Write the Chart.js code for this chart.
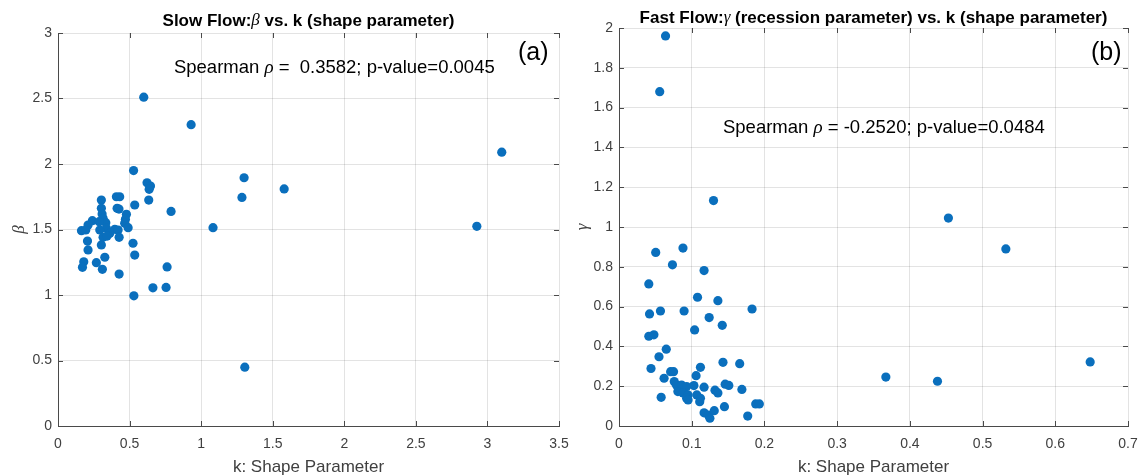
<!DOCTYPE html>
<html>
<head>
<meta charset="utf-8">
<script src="https://cdn.jsdelivr.net/npm/chart.js@4.4.1/dist/chart.umd.min.js"></script>
<style>
    html, body { margin: 0; padding: 0; background: #fff; }
    #wrap { position: relative; width: 1142px; height: 476px; }
    .panel { position: absolute; top: 0; height: 476px; }
</style>
</head>
<body>
<div id="wrap">
    <div class="panel" style="left:0;width:570px"><canvas id="slowChart" width="570" height="476"></canvas></div>
    <div class="panel" style="left:570px;width:572px"><canvas id="fastChart" width="572" height="476"></canvas></div>
</div>
<script>
/* =====================================
   Data: slow flow (beta vs k)
===================================== */
const slowK = [0.599, 0.93, 3.10, 0.528, 1.30, 1.285, 1.58, 1.083, 2.926, 0.755,
    0.663, 0.53, 1.305, 0.762, 0.622, 0.646, 0.637, 0.634, 0.79, 0.536,
    0.408, 0.431, 0.413, 0.426, 0.303, 0.303, 0.308, 0.315, 0.478, 0.471,
    0.466, 0.490, 0.240, 0.210, 0.164, 0.194, 0.334, 0.338, 0.292, 0.362,
    0.397, 0.420, 0.427, 0.315, 0.343, 0.206, 0.210, 0.303, 0.524, 0.536,
    0.327, 0.180, 0.171, 0.268, 0.310, 0.427, 0.288];
const slowBeta = [2.51, 2.30, 2.09, 1.95, 1.895, 1.745, 1.81, 1.514, 1.524, 1.058,
    1.055, 0.994, 0.449, 1.214, 1.857, 1.832, 1.807, 1.725, 1.638, 1.687,
    1.750, 1.750, 1.662, 1.656, 1.725, 1.662, 1.618, 1.585, 1.616, 1.578,
    1.547, 1.514, 1.567, 1.534, 1.491, 1.496, 1.552, 1.509, 1.496, 1.471,
    1.502, 1.496, 1.440, 1.440, 1.450, 1.412, 1.344, 1.382, 1.395, 1.305,
    1.288, 1.254, 1.211, 1.247, 1.196, 1.160, 1.560];
const slowXTicks = [0, 0.5, 1, 1.5, 2, 2.5, 3, 3.5];
const slowYTicks = [0, 0.5, 1, 1.5, 2, 2.5, 3];

/* =====================================
   Data: fast flow (gamma vs k)
===================================== */
const fastK = [0.064, 0.056, 0.130, 0.453, 0.532, 0.648, 0.367, 0.438, 0.0505, 0.088,
    0.0735, 0.117, 0.041, 0.108, 0.136, 0.183, 0.042, 0.057, 0.0895, 0.124,
    0.142, 0.104, 0.041, 0.048, 0.065, 0.055, 0.044, 0.143, 0.166, 0.112,
    0.071, 0.075, 0.106, 0.062, 0.076, 0.079, 0.086, 0.093, 0.103, 0.117,
    0.081, 0.088, 0.095, 0.132, 0.136, 0.146, 0.151, 0.169, 0.058, 0.093,
    0.095, 0.107, 0.112, 0.111, 0.145, 0.117, 0.123, 0.131, 0.125, 0.177,
    0.188, 0.193];
const fastGamma = [1.96, 1.68, 1.133, 1.045, 0.890, 0.322, 0.246, 0.225, 0.872, 0.894,
    0.810, 0.781, 0.714, 0.647, 0.630, 0.588, 0.563, 0.578, 0.578, 0.545,
    0.506, 0.483, 0.451, 0.458, 0.386, 0.348, 0.289, 0.320, 0.313, 0.295,
    0.273, 0.273, 0.253, 0.240, 0.223, 0.206, 0.206, 0.198, 0.203, 0.195,
    0.173, 0.166, 0.156, 0.180, 0.166, 0.210, 0.204, 0.184, 0.144, 0.139,
    0.131, 0.156, 0.139, 0.122, 0.097, 0.066, 0.055, 0.077, 0.039, 0.050,
    0.111, 0.111];
const fastXTicks = [0, 0.1, 0.2, 0.3, 0.4, 0.5, 0.6, 0.7];
const fastYTicks = [0, 0.2, 0.4, 0.6, 0.8, 1, 1.2, 1.4, 1.6, 1.8, 2];

/* =====================================
   Shared styles
===================================== */
const SANS = '"Liberation Sans", Arial, Helvetica, sans-serif';
const SERIF = '"Liberation Serif", "Times New Roman", serif';
const DOT = '#0a6fbd';
const GRID = 'rgba(0,0,0,0.11)';
const AXIS = '#4a4a4a';
const TICK = '#404040';

// draw a line of text made of runs with different fonts
function drawRuns(ctx, runs, x, y, align) {
    let total = 0;
    runs.forEach(r => { ctx.font = r[1]; total += ctx.measureText(r[0]).width; });
    let cx = align === 'center' ? x - total / 2 : x;
    ctx.textAlign = 'left';
    ctx.textBaseline = 'middle';
    runs.forEach(r => {
        ctx.font = r[1];
        ctx.fillText(r[0], cx, y);
        cx += ctx.measureText(r[0]).width;
    });
}

// titles, annotations, axis labels and inner tick marks
function panelPlugin(cfg) {
    return {
        id: 'panelText',
        afterDraw(chart) {
            const ctx = chart.ctx;
            const a = chart.chartArea;
            const xs = chart.scales.x;
            const ys = chart.scales.y;
            ctx.save();

            // inward tick marks on all four sides
            ctx.strokeStyle = AXIS;
            ctx.lineWidth = 1;
            ctx.beginPath();
            cfg.xTicks.forEach(v => {
                const px = Math.round(xs.getPixelForValue(v)) + 0.5;
                ctx.moveTo(px, a.bottom); ctx.lineTo(px, a.bottom - 5);
                ctx.moveTo(px, a.top); ctx.lineTo(px, a.top + 5);
            });
            cfg.yTicks.forEach(v => {
                const py = Math.round(ys.getPixelForValue(v)) + 0.5;
                ctx.moveTo(a.left, py); ctx.lineTo(a.left + 5, py);
                ctx.moveTo(a.right, py); ctx.lineTo(a.right - 5, py);
            });
            ctx.stroke();

            ctx.fillStyle = '#000';
            // title
            drawRuns(ctx, cfg.title, (a.left + a.right) / 2, cfg.titleY, 'center');

            // spearman note
            drawRuns(ctx, cfg.note,
                xs.getPixelForValue(cfg.notePos[0]), ys.getPixelForValue(cfg.notePos[1]), 'left');

            // panel letter
            ctx.font = '25px ' + SANS;
            ctx.textAlign = 'center';
            ctx.textBaseline = 'middle';
            ctx.fillText(cfg.letter, xs.getPixelForValue(cfg.letterPos[0]), ys.getPixelForValue(cfg.letterPos[1]));

            // x axis title
            ctx.fillStyle = TICK;
            ctx.font = '17px ' + SANS;
            ctx.fillText('k: Shape Parameter', (a.left + a.right) / 2, 467);

            // y axis symbol, rotated
            ctx.translate(cfg.yTitleX, (a.top + a.bottom) / 2);
            ctx.rotate(-Math.PI / 2);
            ctx.font = 'italic 17px ' + SERIF;
            ctx.fillText(cfg.yTitle, 0, 0);
            ctx.restore();
        }
    };
}

function makeChart(id, cfg) {
    const points = cfg.k.map((k, i) => ({ x: k, y: cfg.v[i] }));

    return new Chart(document.getElementById(id), {
        type: 'scatter',
        data: {
            datasets: [{
                data: points,
                backgroundColor: DOT,
                borderWidth: 0,
                pointRadius: 4.6,
                pointHoverRadius: 4.6
            }]
        },
        options: {
            responsive: false,
            animation: false,
            devicePixelRatio: 1,
            layout: { autoPadding: false, padding: cfg.pad },
            plugins: {
                legend: { display: false },
                tooltip: { enabled: false },
                title: { display: false }
            },
            scales: {
                x: {
                    type: 'linear',
                    min: cfg.xTicks[0],
                    max: cfg.xTicks[cfg.xTicks.length - 1],
                    afterBuildTicks: s => { s.ticks = cfg.xTicks.map(v => ({ value: v })); },
                    afterFit: s => { s.height = 50; s.paddingLeft = 0; s.paddingRight = 0; },
                    grid: { color: GRID, drawTicks: false },
                    border: { color: AXIS },
                    ticks: {
                        padding: 10,
                        color: TICK,
                        autoSkip: false,
                        maxRotation: 0,
                        font: { family: SANS, size: 14 },
                        callback: v => String(v)
                    }
                },
                y: {
                    type: 'linear',
                    min: cfg.yTicks[0],
                    max: cfg.yTicks[cfg.yTicks.length - 1],
                    afterBuildTicks: s => { s.ticks = cfg.yTicks.map(v => ({ value: v })); },
                    afterFit: s => { s.width = cfg.yWidth; s.paddingTop = 0; s.paddingBottom = 0; },
                    grid: { color: GRID, drawTicks: false },
                    border: { color: AXIS },
                    ticks: {
                        padding: 6,
                        color: TICK,
                        autoSkip: false,
                        font: { family: SANS, size: 14 },
                        callback: v => String(v)
                    }
                }
            }
        },
        plugins: [panelPlugin(cfg)]
    });
}

/* =====================================
   Panel (a): slow flow
===================================== */
makeChart('slowChart', {
    k: slowK, v: slowBeta,
    xTicks: slowXTicks, yTicks: slowYTicks,
    pad: { left: 0, right: 11, top: 33, bottom: 0 },
    yWidth: 58,
    titleY: 21,
    title: [
        ['Slow Flow:', 'bold 17px ' + SANS],
        ['\u03B2', 'italic 17px ' + SERIF],
        [' vs. k (shape parameter)', 'bold 17px ' + SANS]
    ],
    note: [
        ['Spearman ', '18.5px ' + SANS],
        ['\u03C1', 'italic 19px ' + SERIF],
        [' =  0.3582; p-value=0.0045', '18.5px ' + SANS]
    ],
    notePos: [0.81, 2.733],
    letter: '(a)', letterPos: [3.32, 2.85],
    yTitle: '\u03B2', yTitleX: 20
});

/* =====================================
   Panel (b): fast flow
===================================== */
makeChart('fastChart', {
    k: fastK, v: fastGamma,
    xTicks: fastXTicks, yTicks: fastYTicks,
    pad: { left: 0, right: 14, top: 28, bottom: 0 },
    yWidth: 49,
    titleY: 18,
    title: [
        ['Fast Flow:', 'bold 17px ' + SANS],
        ['\u03B3', 'italic 17px ' + SERIF],
        [' (recession parameter) vs. k (shape parameter)', 'bold 17px ' + SANS]
    ],
    note: [
        ['Spearman ', '18.5px ' + SANS],
        ['\u03C1', 'italic 19px ' + SERIF],
        [' = -0.2520; p-value=0.0484', '18.5px ' + SANS]
    ],
    notePos: [0.143, 1.50],
    letter: '(b)', letterPos: [0.67, 1.876],
    yTitle: '\u03B3', yTitleX: 13
});
</script>
</body>
</html>
